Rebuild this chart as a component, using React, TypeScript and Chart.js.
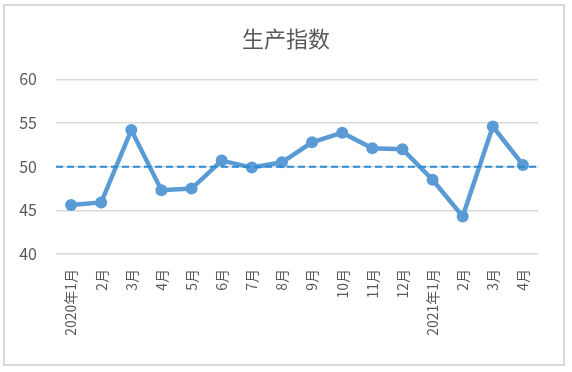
import React, { useEffect, useRef } from "react";
import { Chart, registerables } from "chart.js";

Chart.register(...registerables);

const TITLE = "生产指数";
const categories = [
  "2020年1月", "2月", "3月", "4月", "5月", "6月", "7月", "8月",
  "9月", "10月", "11月", "12月", "2021年1月", "2月", "3月", "4月",
];
const productionIndex = [
  45.6, 45.9, 54.2, 47.3, 47.5, 50.7, 49.9, 50.5,
  52.8, 53.9, 52.1, 52.0, 48.5, 44.3, 54.6, 50.2,
];
const referenceValue = 50;
const yMin = 40;
const yMax = 60;
const yStep = 5;

const FONT = "'Noto Sans CJK SC', 'Microsoft YaHei', sans-serif";
const TEXT = "#595959";

const refLinePlugin = {
  id: "refLine",
  afterDatasetsDraw(chart: any) {
    const { ctx, chartArea, scales } = chart;
    const y = scales.y.getPixelForValue(referenceValue);
    ctx.save();
    ctx.strokeStyle = "#2a8bd6";
    ctx.lineWidth = 2;
    ctx.setLineDash([7, 4]);
    ctx.beginPath();
    ctx.moveTo(chartArea.left, y);
    ctx.lineTo(chartArea.right, y);
    ctx.stroke();
    ctx.restore();
  },
};

export default function App() {
  const ref = useRef<HTMLCanvasElement>(null);
  useEffect(() => {
    if (!ref.current) return;
    const chart = new Chart(ref.current, {
      type: "line",
      data: {
        labels: categories,
        datasets: [
          {
            data: productionIndex,
            borderColor: "#5b9bd5",
            backgroundColor: "#5b9bd5",
            borderWidth: 4.5,
            pointRadius: 6,
            pointBackgroundColor: "#5b9bd5",
            pointBorderColor: "#5b9bd5",
            pointBorderWidth: 0,
            tension: 0,
          },
        ],
      },
      plugins: [refLinePlugin],
      options: {
        animation: false,
        responsive: false,
        maintainAspectRatio: false,
        layout: { padding: { left: 0, right: 0, top: 0, bottom: 0 } },
        plugins: {
          legend: { display: false },
          tooltip: { enabled: false },
          title: {
            display: true,
            text: TITLE,
            color: TEXT,
            font: { family: FONT, size: 22, weight: "normal" },
            padding: { top: 25, bottom: 28 },
          },
        },
        scales: {
          x: {
            offset: true,
            grid: { display: false, drawTicks: false },
            border: { display: false },
            ticks: {
              color: TEXT,
              font: { family: FONT, size: 14 },
              minRotation: 90,
              maxRotation: 90,
              autoSkip: false,
              padding: 15,
            },
            afterFit(scale: any) {
              scale.height = 372 - 254;
            },
          },
          y: {
            min: yMin,
            max: yMax,
            grid: { color: "#d9d9d9", lineWidth: 1.5, drawTicks: false },
            border: { display: false },
            ticks: {
              stepSize: yStep,
              color: TEXT,
              font: { family: FONT, size: 16 },
              padding: 19,
            },
            afterFit(scale: any) {
              scale.width = 56;
            },
          },
          spacer: {
            type: "linear",
            position: "right",
            display: true,
            grid: { display: false, drawTicks: false },
            border: { display: false },
            ticks: { display: false },
            afterFit(scale: any) {
              scale.width = 34;
            },
          },
        },
      },
    });
    return () => chart.destroy();
  }, []);

  return (
    <div style={{ position: "fixed", left: 0, top: 0, width: 572, height: 372, background: "#fff" }}>
      <div
        style={{
          position: "absolute",
          left: 3,
          top: 4,
          width: 562,
          height: 362,
          border: "2px solid #d9d9d9",
          boxSizing: "border-box",
        }}
      />
      <canvas ref={ref} width={572} height={372} style={{ position: "absolute", left: 0, top: 0 }} />
    </div>
  );
}
